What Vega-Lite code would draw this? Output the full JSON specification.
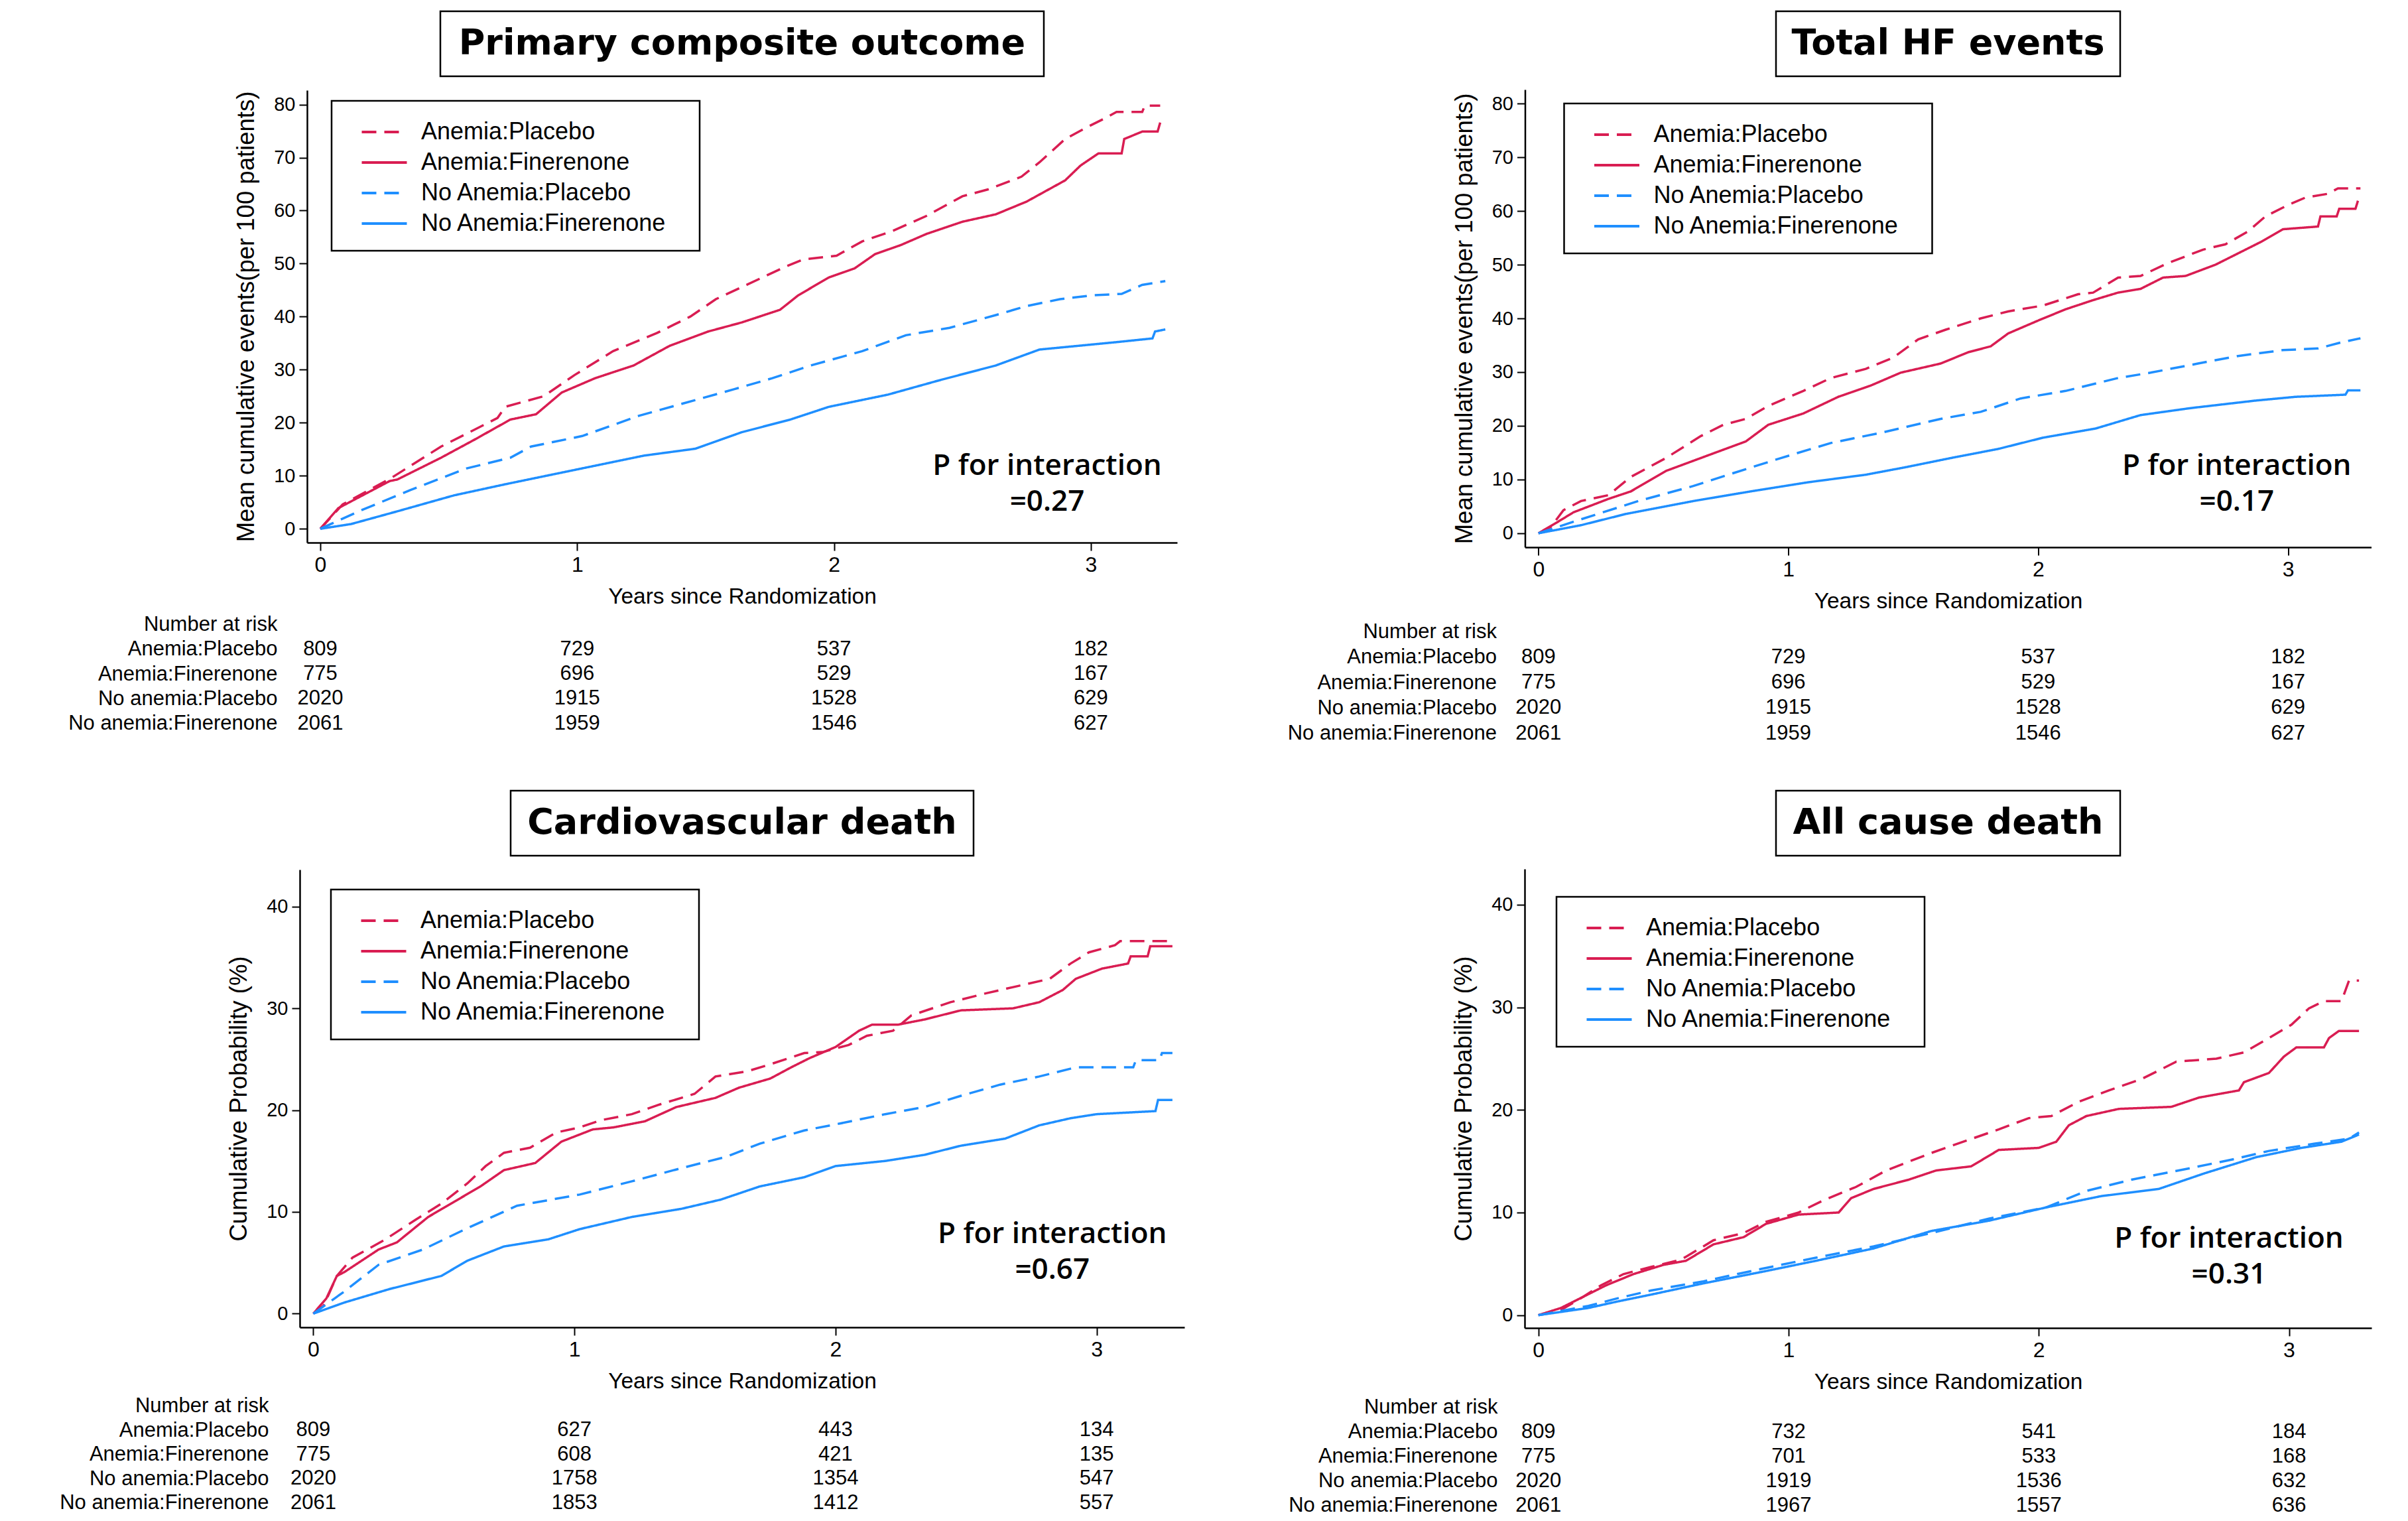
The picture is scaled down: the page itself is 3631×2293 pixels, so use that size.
{
"$schema": "https://vega.github.io/schema/vega-lite/v6.json",
"padding": {"left": 89, "top": 15, "right": 5, "bottom": 5},
"background": "white",
"datasets": {
"p1": [
{"g":"Anemia:Placebo","t":0,"v":0},{"g":"Anemia:Placebo","t":0.087,"v":4.6},{"g":"Anemia:Placebo","t":0.27,"v":9.4},{"g":"Anemia:Placebo","t":0.47,"v":15.5},{"g":"Anemia:Placebo","t":0.69,"v":20.9},{"g":"Anemia:Placebo","t":0.72,"v":23},{"g":"Anemia:Placebo","t":0.87,"v":25},{"g":"Anemia:Placebo","t":0.99,"v":29},{"g":"Anemia:Placebo","t":1.14,"v":33.5},{"g":"Anemia:Placebo","t":1.31,"v":36.9},{"g":"Anemia:Placebo","t":1.44,"v":40},{"g":"Anemia:Placebo","t":1.54,"v":43.3},{"g":"Anemia:Placebo","t":1.66,"v":46},{"g":"Anemia:Placebo","t":1.81,"v":49.4},{"g":"Anemia:Placebo","t":1.88,"v":50.8},{"g":"Anemia:Placebo","t":2.01,"v":51.5},{"g":"Anemia:Placebo","t":2.11,"v":54.2},{"g":"Anemia:Placebo","t":2.23,"v":56.2},{"g":"Anemia:Placebo","t":2.36,"v":59},{"g":"Anemia:Placebo","t":2.5,"v":62.7},{"g":"Anemia:Placebo","t":2.6,"v":64},{"g":"Anemia:Placebo","t":2.73,"v":66.4},{"g":"Anemia:Placebo","t":2.8,"v":69.1},{"g":"Anemia:Placebo","t":2.9,"v":73.5},{"g":"Anemia:Placebo","t":2.98,"v":75.6},{"g":"Anemia:Placebo","t":3.05,"v":77.3},{"g":"Anemia:Placebo","t":3.1,"v":78.6},{"g":"Anemia:Placebo","t":3.2,"v":78.6},{"g":"Anemia:Placebo","t":3.21,"v":79.8},{"g":"Anemia:Placebo","t":3.27,"v":79.8},
{"g":"Anemia:Finerenone","t":0,"v":0},{"g":"Anemia:Finerenone","t":0.07,"v":3.9},{"g":"Anemia:Finerenone","t":0.27,"v":9},{"g":"Anemia:Finerenone","t":0.3,"v":9.3},{"g":"Anemia:Finerenone","t":0.47,"v":13.4},{"g":"Anemia:Finerenone","t":0.6,"v":16.8},{"g":"Anemia:Finerenone","t":0.74,"v":20.6},{"g":"Anemia:Finerenone","t":0.84,"v":21.6},{"g":"Anemia:Finerenone","t":0.94,"v":25.7},{"g":"Anemia:Finerenone","t":1.07,"v":28.4},{"g":"Anemia:Finerenone","t":1.22,"v":30.8},{"g":"Anemia:Finerenone","t":1.36,"v":34.5},{"g":"Anemia:Finerenone","t":1.51,"v":37.2},{"g":"Anemia:Finerenone","t":1.64,"v":38.9},{"g":"Anemia:Finerenone","t":1.79,"v":41.3},{"g":"Anemia:Finerenone","t":1.86,"v":44},{"g":"Anemia:Finerenone","t":1.98,"v":47.4},{"g":"Anemia:Finerenone","t":2.08,"v":49.1},{"g":"Anemia:Finerenone","t":2.16,"v":51.8},{"g":"Anemia:Finerenone","t":2.26,"v":53.5},{"g":"Anemia:Finerenone","t":2.36,"v":55.6},{"g":"Anemia:Finerenone","t":2.5,"v":57.9},{"g":"Anemia:Finerenone","t":2.63,"v":59.3},{"g":"Anemia:Finerenone","t":2.75,"v":61.7},{"g":"Anemia:Finerenone","t":2.9,"v":65.7},{"g":"Anemia:Finerenone","t":2.96,"v":68.5},{"g":"Anemia:Finerenone","t":3.03,"v":70.8},{"g":"Anemia:Finerenone","t":3.12,"v":70.8},{"g":"Anemia:Finerenone","t":3.13,"v":73.5},{"g":"Anemia:Finerenone","t":3.2,"v":74.9},{"g":"Anemia:Finerenone","t":3.26,"v":74.9},{"g":"Anemia:Finerenone","t":3.27,"v":76.6},
{"g":"No Anemia:Placebo","t":0,"v":0},{"g":"No Anemia:Placebo","t":0.15,"v":3.3},{"g":"No Anemia:Placebo","t":0.35,"v":7.3},{"g":"No Anemia:Placebo","t":0.57,"v":11.4},{"g":"No Anemia:Placebo","t":0.74,"v":13.4},{"g":"No Anemia:Placebo","t":0.82,"v":15.5},{"g":"No Anemia:Placebo","t":1.02,"v":17.5},{"g":"No Anemia:Placebo","t":1.24,"v":21.3},{"g":"No Anemia:Placebo","t":1.41,"v":23.6},{"g":"No Anemia:Placebo","t":1.61,"v":26.3},{"g":"No Anemia:Placebo","t":1.76,"v":28.4},{"g":"No Anemia:Placebo","t":1.91,"v":30.8},{"g":"No Anemia:Placebo","t":2.11,"v":33.5},{"g":"No Anemia:Placebo","t":2.28,"v":36.5},{"g":"No Anemia:Placebo","t":2.45,"v":37.9},{"g":"No Anemia:Placebo","t":2.63,"v":40.3},{"g":"No Anemia:Placebo","t":2.75,"v":42},{"g":"No Anemia:Placebo","t":2.88,"v":43.3},{"g":"No Anemia:Placebo","t":3.0,"v":44},{"g":"No Anemia:Placebo","t":3.12,"v":44.3},{"g":"No Anemia:Placebo","t":3.2,"v":46},{"g":"No Anemia:Placebo","t":3.29,"v":46.7},
{"g":"No Anemia:Finerenone","t":0,"v":0},{"g":"No Anemia:Finerenone","t":0.12,"v":0.9},{"g":"No Anemia:Finerenone","t":0.3,"v":3.3},{"g":"No Anemia:Finerenone","t":0.52,"v":6.3},{"g":"No Anemia:Finerenone","t":0.72,"v":8.4},{"g":"No Anemia:Finerenone","t":1.02,"v":11.4},{"g":"No Anemia:Finerenone","t":1.26,"v":13.8},{"g":"No Anemia:Finerenone","t":1.46,"v":15.1},{"g":"No Anemia:Finerenone","t":1.64,"v":18.2},{"g":"No Anemia:Finerenone","t":1.83,"v":20.6},{"g":"No Anemia:Finerenone","t":1.98,"v":23},{"g":"No Anemia:Finerenone","t":2.21,"v":25.3},{"g":"No Anemia:Finerenone","t":2.41,"v":28},{"g":"No Anemia:Finerenone","t":2.63,"v":30.8},{"g":"No Anemia:Finerenone","t":2.8,"v":33.8},{"g":"No Anemia:Finerenone","t":2.95,"v":34.5},{"g":"No Anemia:Finerenone","t":3.1,"v":35.2},{"g":"No Anemia:Finerenone","t":3.24,"v":35.9},{"g":"No Anemia:Finerenone","t":3.25,"v":37.2},{"g":"No Anemia:Finerenone","t":3.29,"v":37.6}
],
"p2": [
{"g":"Anemia:Placebo","t":0,"v":0},{"g":"Anemia:Placebo","t":0.05,"v":1.2},{"g":"Anemia:Placebo","t":0.1,"v":4.3},{"g":"Anemia:Placebo","t":0.17,"v":6},{"g":"Anemia:Placebo","t":0.28,"v":7.1},{"g":"Anemia:Placebo","t":0.37,"v":10.5},{"g":"Anemia:Placebo","t":0.51,"v":14},{"g":"Anemia:Placebo","t":0.65,"v":18.1},{"g":"Anemia:Placebo","t":0.74,"v":20.2},{"g":"Anemia:Placebo","t":0.83,"v":21.3},{"g":"Anemia:Placebo","t":0.92,"v":23.7},{"g":"Anemia:Placebo","t":1.06,"v":26.5},{"g":"Anemia:Placebo","t":1.17,"v":28.9},{"g":"Anemia:Placebo","t":1.31,"v":30.6},{"g":"Anemia:Placebo","t":1.42,"v":32.7},{"g":"Anemia:Placebo","t":1.52,"v":36.1},{"g":"Anemia:Placebo","t":1.63,"v":37.9},{"g":"Anemia:Placebo","t":1.77,"v":40},{"g":"Anemia:Placebo","t":1.88,"v":41.3},{"g":"Anemia:Placebo","t":2.02,"v":42.4},{"g":"Anemia:Placebo","t":2.16,"v":44.5},{"g":"Anemia:Placebo","t":2.22,"v":44.8},{"g":"Anemia:Placebo","t":2.32,"v":47.6},{"g":"Anemia:Placebo","t":2.41,"v":47.9},{"g":"Anemia:Placebo","t":2.52,"v":50.3},{"g":"Anemia:Placebo","t":2.66,"v":52.8},{"g":"Anemia:Placebo","t":2.75,"v":53.8},{"g":"Anemia:Placebo","t":2.84,"v":56.2},{"g":"Anemia:Placebo","t":2.91,"v":59},{"g":"Anemia:Placebo","t":3.0,"v":61.1},{"g":"Anemia:Placebo","t":3.07,"v":62.5},{"g":"Anemia:Placebo","t":3.16,"v":63.2},{"g":"Anemia:Placebo","t":3.2,"v":64.2},{"g":"Anemia:Placebo","t":3.29,"v":64.2},
{"g":"Anemia:Finerenone","t":0,"v":0},{"g":"Anemia:Finerenone","t":0.08,"v":2.2},{"g":"Anemia:Finerenone","t":0.14,"v":3.9},{"g":"Anemia:Finerenone","t":0.28,"v":6.4},{"g":"Anemia:Finerenone","t":0.37,"v":7.8},{"g":"Anemia:Finerenone","t":0.51,"v":11.6},{"g":"Anemia:Finerenone","t":0.69,"v":14.7},{"g":"Anemia:Finerenone","t":0.83,"v":17.1},{"g":"Anemia:Finerenone","t":0.92,"v":20.2},{"g":"Anemia:Finerenone","t":1.06,"v":22.3},{"g":"Anemia:Finerenone","t":1.2,"v":25.4},{"g":"Anemia:Finerenone","t":1.33,"v":27.5},{"g":"Anemia:Finerenone","t":1.45,"v":29.9},{"g":"Anemia:Finerenone","t":1.61,"v":31.6},{"g":"Anemia:Finerenone","t":1.72,"v":33.7},{"g":"Anemia:Finerenone","t":1.81,"v":34.8},{"g":"Anemia:Finerenone","t":1.88,"v":37.2},{"g":"Anemia:Finerenone","t":2.0,"v":39.6},{"g":"Anemia:Finerenone","t":2.11,"v":41.7},{"g":"Anemia:Finerenone","t":2.22,"v":43.4},{"g":"Anemia:Finerenone","t":2.32,"v":44.8},{"g":"Anemia:Finerenone","t":2.41,"v":45.5},{"g":"Anemia:Finerenone","t":2.5,"v":47.6},{"g":"Anemia:Finerenone","t":2.59,"v":47.9},{"g":"Anemia:Finerenone","t":2.71,"v":50},{"g":"Anemia:Finerenone","t":2.8,"v":52.1},{"g":"Anemia:Finerenone","t":2.89,"v":54.2},{"g":"Anemia:Finerenone","t":2.98,"v":56.6},{"g":"Anemia:Finerenone","t":3.12,"v":57.1},{"g":"Anemia:Finerenone","t":3.13,"v":59},{"g":"Anemia:Finerenone","t":3.195,"v":59},{"g":"Anemia:Finerenone","t":3.205,"v":60.4},{"g":"Anemia:Finerenone","t":3.27,"v":60.4},{"g":"Anemia:Finerenone","t":3.28,"v":61.9},
{"g":"No Anemia:Placebo","t":0,"v":0},{"g":"No Anemia:Placebo","t":0.17,"v":2.6},{"g":"No Anemia:Placebo","t":0.4,"v":6},{"g":"No Anemia:Placebo","t":0.62,"v":8.8},{"g":"No Anemia:Placebo","t":0.78,"v":11.2},{"g":"No Anemia:Placebo","t":0.97,"v":14},{"g":"No Anemia:Placebo","t":1.17,"v":16.8},{"g":"No Anemia:Placebo","t":1.38,"v":18.8},{"g":"No Anemia:Placebo","t":1.61,"v":21.3},{"g":"No Anemia:Placebo","t":1.77,"v":22.6},{"g":"No Anemia:Placebo","t":1.93,"v":25.1},{"g":"No Anemia:Placebo","t":2.11,"v":26.5},{"g":"No Anemia:Placebo","t":2.32,"v":28.9},{"g":"No Anemia:Placebo","t":2.45,"v":29.9},{"g":"No Anemia:Placebo","t":2.64,"v":31.6},{"g":"No Anemia:Placebo","t":2.8,"v":33},{"g":"No Anemia:Placebo","t":2.98,"v":34.1},{"g":"No Anemia:Placebo","t":3.12,"v":34.4},{"g":"No Anemia:Placebo","t":3.21,"v":35.5},{"g":"No Anemia:Placebo","t":3.29,"v":36.3},
{"g":"No Anemia:Finerenone","t":0,"v":0},{"g":"No Anemia:Finerenone","t":0.17,"v":1.5},{"g":"No Anemia:Finerenone","t":0.35,"v":3.6},{"g":"No Anemia:Finerenone","t":0.62,"v":6},{"g":"No Anemia:Finerenone","t":0.85,"v":7.8},{"g":"No Anemia:Finerenone","t":1.08,"v":9.5},{"g":"No Anemia:Finerenone","t":1.31,"v":10.9},{"g":"No Anemia:Finerenone","t":1.47,"v":12.3},{"g":"No Anemia:Finerenone","t":1.65,"v":14},{"g":"No Anemia:Finerenone","t":1.84,"v":15.7},{"g":"No Anemia:Finerenone","t":2.02,"v":17.8},{"g":"No Anemia:Finerenone","t":2.23,"v":19.5},{"g":"No Anemia:Finerenone","t":2.41,"v":22},{"g":"No Anemia:Finerenone","t":2.61,"v":23.3},{"g":"No Anemia:Finerenone","t":2.87,"v":24.7},{"g":"No Anemia:Finerenone","t":3.03,"v":25.4},{"g":"No Anemia:Finerenone","t":3.23,"v":25.8},{"g":"No Anemia:Finerenone","t":3.24,"v":26.6},{"g":"No Anemia:Finerenone","t":3.29,"v":26.6}
],
"p3": [
{"g":"Anemia:Placebo","t":0,"v":0},{"g":"Anemia:Placebo","t":0.04,"v":0.8},{"g":"Anemia:Placebo","t":0.09,"v":3.7},{"g":"Anemia:Placebo","t":0.15,"v":5.5},{"g":"Anemia:Placebo","t":0.27,"v":7.2},{"g":"Anemia:Placebo","t":0.39,"v":9.2},{"g":"Anemia:Placebo","t":0.49,"v":10.8},{"g":"Anemia:Placebo","t":0.59,"v":12.8},{"g":"Anemia:Placebo","t":0.66,"v":14.5},{"g":"Anemia:Placebo","t":0.73,"v":15.8},{"g":"Anemia:Placebo","t":0.83,"v":16.3},{"g":"Anemia:Placebo","t":0.93,"v":17.8},{"g":"Anemia:Placebo","t":1.02,"v":18.3},{"g":"Anemia:Placebo","t":1.1,"v":19},{"g":"Anemia:Placebo","t":1.22,"v":19.6},{"g":"Anemia:Placebo","t":1.32,"v":20.5},{"g":"Anemia:Placebo","t":1.46,"v":21.6},{"g":"Anemia:Placebo","t":1.54,"v":23.3},{"g":"Anemia:Placebo","t":1.66,"v":23.8},{"g":"Anemia:Placebo","t":1.75,"v":24.5},{"g":"Anemia:Placebo","t":1.88,"v":25.6},{"g":"Anemia:Placebo","t":1.95,"v":25.7},{"g":"Anemia:Placebo","t":2.05,"v":26.4},{"g":"Anemia:Placebo","t":2.12,"v":27.3},{"g":"Anemia:Placebo","t":2.22,"v":27.8},{"g":"Anemia:Placebo","t":2.29,"v":29.3},{"g":"Anemia:Placebo","t":2.44,"v":30.6},{"g":"Anemia:Placebo","t":2.58,"v":31.5},{"g":"Anemia:Placebo","t":2.7,"v":32.2},{"g":"Anemia:Placebo","t":2.82,"v":32.9},{"g":"Anemia:Placebo","t":2.9,"v":34.4},{"g":"Anemia:Placebo","t":2.97,"v":35.5},{"g":"Anemia:Placebo","t":3.07,"v":36.2},{"g":"Anemia:Placebo","t":3.09,"v":36.6},{"g":"Anemia:Placebo","t":3.29,"v":36.6},
{"g":"Anemia:Finerenone","t":0,"v":0},{"g":"Anemia:Finerenone","t":0.05,"v":1.5},{"g":"Anemia:Finerenone","t":0.09,"v":3.7},{"g":"Anemia:Finerenone","t":0.12,"v":4.1},{"g":"Anemia:Finerenone","t":0.25,"v":6.3},{"g":"Anemia:Finerenone","t":0.32,"v":7},{"g":"Anemia:Finerenone","t":0.44,"v":9.5},{"g":"Anemia:Finerenone","t":0.54,"v":11},{"g":"Anemia:Finerenone","t":0.64,"v":12.5},{"g":"Anemia:Finerenone","t":0.73,"v":14.1},{"g":"Anemia:Finerenone","t":0.85,"v":14.8},{"g":"Anemia:Finerenone","t":0.95,"v":16.9},{"g":"Anemia:Finerenone","t":1.07,"v":18.1},{"g":"Anemia:Finerenone","t":1.15,"v":18.3},{"g":"Anemia:Finerenone","t":1.27,"v":18.9},{"g":"Anemia:Finerenone","t":1.39,"v":20.3},{"g":"Anemia:Finerenone","t":1.54,"v":21.2},{"g":"Anemia:Finerenone","t":1.63,"v":22.2},{"g":"Anemia:Finerenone","t":1.75,"v":23.1},{"g":"Anemia:Finerenone","t":1.83,"v":24.2},{"g":"Anemia:Finerenone","t":1.9,"v":25.1},{"g":"Anemia:Finerenone","t":2.0,"v":26.2},{"g":"Anemia:Finerenone","t":2.09,"v":27.8},{"g":"Anemia:Finerenone","t":2.14,"v":28.4},{"g":"Anemia:Finerenone","t":2.24,"v":28.4},{"g":"Anemia:Finerenone","t":2.34,"v":28.9},{"g":"Anemia:Finerenone","t":2.48,"v":29.8},{"g":"Anemia:Finerenone","t":2.68,"v":30},{"g":"Anemia:Finerenone","t":2.78,"v":30.6},{"g":"Anemia:Finerenone","t":2.87,"v":31.8},{"g":"Anemia:Finerenone","t":2.92,"v":32.9},{"g":"Anemia:Finerenone","t":3.02,"v":33.9},{"g":"Anemia:Finerenone","t":3.12,"v":34.4},{"g":"Anemia:Finerenone","t":3.13,"v":35.1},{"g":"Anemia:Finerenone","t":3.195,"v":35.1},{"g":"Anemia:Finerenone","t":3.205,"v":36.1},{"g":"Anemia:Finerenone","t":3.29,"v":36.1},
{"g":"No Anemia:Placebo","t":0,"v":0},{"g":"No Anemia:Placebo","t":0.12,"v":2.2},{"g":"No Anemia:Placebo","t":0.25,"v":4.8},{"g":"No Anemia:Placebo","t":0.42,"v":6.3},{"g":"No Anemia:Placebo","t":0.59,"v":8.4},{"g":"No Anemia:Placebo","t":0.78,"v":10.6},{"g":"No Anemia:Placebo","t":1.02,"v":11.7},{"g":"No Anemia:Placebo","t":1.22,"v":13},{"g":"No Anemia:Placebo","t":1.41,"v":14.3},{"g":"No Anemia:Placebo","t":1.58,"v":15.4},{"g":"No Anemia:Placebo","t":1.71,"v":16.7},{"g":"No Anemia:Placebo","t":1.88,"v":18},{"g":"No Anemia:Placebo","t":2.02,"v":18.7},{"g":"No Anemia:Placebo","t":2.19,"v":19.6},{"g":"No Anemia:Placebo","t":2.34,"v":20.3},{"g":"No Anemia:Placebo","t":2.48,"v":21.4},{"g":"No Anemia:Placebo","t":2.63,"v":22.5},{"g":"No Anemia:Placebo","t":2.78,"v":23.3},{"g":"No Anemia:Placebo","t":2.92,"v":24.2},{"g":"No Anemia:Placebo","t":3.14,"v":24.2},{"g":"No Anemia:Placebo","t":3.15,"v":24.9},{"g":"No Anemia:Placebo","t":3.24,"v":24.9},{"g":"No Anemia:Placebo","t":3.25,"v":25.6},{"g":"No Anemia:Placebo","t":3.29,"v":25.6},
{"g":"No Anemia:Finerenone","t":0,"v":0},{"g":"No Anemia:Finerenone","t":0.12,"v":1.1},{"g":"No Anemia:Finerenone","t":0.29,"v":2.4},{"g":"No Anemia:Finerenone","t":0.49,"v":3.7},{"g":"No Anemia:Finerenone","t":0.59,"v":5.2},{"g":"No Anemia:Finerenone","t":0.73,"v":6.6},{"g":"No Anemia:Finerenone","t":0.9,"v":7.3},{"g":"No Anemia:Finerenone","t":1.02,"v":8.3},{"g":"No Anemia:Finerenone","t":1.22,"v":9.5},{"g":"No Anemia:Finerenone","t":1.41,"v":10.3},{"g":"No Anemia:Finerenone","t":1.56,"v":11.2},{"g":"No Anemia:Finerenone","t":1.71,"v":12.5},{"g":"No Anemia:Finerenone","t":1.88,"v":13.4},{"g":"No Anemia:Finerenone","t":2.0,"v":14.5},{"g":"No Anemia:Finerenone","t":2.19,"v":15},{"g":"No Anemia:Finerenone","t":2.34,"v":15.6},{"g":"No Anemia:Finerenone","t":2.48,"v":16.5},{"g":"No Anemia:Finerenone","t":2.65,"v":17.2},{"g":"No Anemia:Finerenone","t":2.78,"v":18.5},{"g":"No Anemia:Finerenone","t":2.9,"v":19.2},{"g":"No Anemia:Finerenone","t":3.0,"v":19.6},{"g":"No Anemia:Finerenone","t":3.225,"v":19.9},{"g":"No Anemia:Finerenone","t":3.235,"v":21},{"g":"No Anemia:Finerenone","t":3.29,"v":21}
],
"p4": [
{"g":"Anemia:Placebo","t":0,"v":0},{"g":"Anemia:Placebo","t":0.09,"v":0.5},{"g":"Anemia:Placebo","t":0.18,"v":1.8},{"g":"Anemia:Placebo","t":0.25,"v":2.9},{"g":"Anemia:Placebo","t":0.34,"v":4},{"g":"Anemia:Placebo","t":0.45,"v":4.7},{"g":"Anemia:Placebo","t":0.57,"v":5.4},{"g":"Anemia:Placebo","t":0.7,"v":7.3},{"g":"Anemia:Placebo","t":0.82,"v":8},{"g":"Anemia:Placebo","t":0.91,"v":9.1},{"g":"Anemia:Placebo","t":1.04,"v":10},{"g":"Anemia:Placebo","t":1.14,"v":11.2},{"g":"Anemia:Placebo","t":1.27,"v":12.5},{"g":"Anemia:Placebo","t":1.39,"v":14.1},{"g":"Anemia:Placebo","t":1.57,"v":15.8},{"g":"Anemia:Placebo","t":1.71,"v":17},{"g":"Anemia:Placebo","t":1.84,"v":18.1},{"g":"Anemia:Placebo","t":1.96,"v":19.2},{"g":"Anemia:Placebo","t":2.05,"v":19.4},{"g":"Anemia:Placebo","t":2.16,"v":20.8},{"g":"Anemia:Placebo","t":2.28,"v":21.9},{"g":"Anemia:Placebo","t":2.41,"v":23},{"g":"Anemia:Placebo","t":2.55,"v":24.7},{"g":"Anemia:Placebo","t":2.71,"v":25},{"g":"Anemia:Placebo","t":2.82,"v":25.6},{"g":"Anemia:Placebo","t":2.92,"v":27},{"g":"Anemia:Placebo","t":3.01,"v":28.3},{"g":"Anemia:Placebo","t":3.08,"v":29.9},{"g":"Anemia:Placebo","t":3.14,"v":30.6},{"g":"Anemia:Placebo","t":3.21,"v":30.6},{"g":"Anemia:Placebo","t":3.24,"v":32.6},{"g":"Anemia:Placebo","t":3.28,"v":32.6},
{"g":"Anemia:Finerenone","t":0,"v":0},{"g":"Anemia:Finerenone","t":0.09,"v":0.7},{"g":"Anemia:Finerenone","t":0.18,"v":1.8},{"g":"Anemia:Finerenone","t":0.27,"v":2.9},{"g":"Anemia:Finerenone","t":0.38,"v":4},{"g":"Anemia:Finerenone","t":0.5,"v":4.9},{"g":"Anemia:Finerenone","t":0.59,"v":5.3},{"g":"Anemia:Finerenone","t":0.7,"v":6.9},{"g":"Anemia:Finerenone","t":0.82,"v":7.6},{"g":"Anemia:Finerenone","t":0.91,"v":8.9},{"g":"Anemia:Finerenone","t":1.04,"v":9.8},{"g":"Anemia:Finerenone","t":1.2,"v":10},{"g":"Anemia:Finerenone","t":1.25,"v":11.4},{"g":"Anemia:Finerenone","t":1.34,"v":12.3},{"g":"Anemia:Finerenone","t":1.48,"v":13.2},{"g":"Anemia:Finerenone","t":1.59,"v":14.1},{"g":"Anemia:Finerenone","t":1.73,"v":14.5},{"g":"Anemia:Finerenone","t":1.84,"v":16.1},{"g":"Anemia:Finerenone","t":2.0,"v":16.3},{"g":"Anemia:Finerenone","t":2.07,"v":16.9},{"g":"Anemia:Finerenone","t":2.12,"v":18.5},{"g":"Anemia:Finerenone","t":2.19,"v":19.4},{"g":"Anemia:Finerenone","t":2.32,"v":20.1},{"g":"Anemia:Finerenone","t":2.53,"v":20.3},{"g":"Anemia:Finerenone","t":2.64,"v":21.2},{"g":"Anemia:Finerenone","t":2.8,"v":21.9},{"g":"Anemia:Finerenone","t":2.82,"v":22.7},{"g":"Anemia:Finerenone","t":2.92,"v":23.6},{"g":"Anemia:Finerenone","t":2.98,"v":25.2},{"g":"Anemia:Finerenone","t":3.03,"v":26.1},{"g":"Anemia:Finerenone","t":3.14,"v":26.1},{"g":"Anemia:Finerenone","t":3.16,"v":27},{"g":"Anemia:Finerenone","t":3.2,"v":27.7},{"g":"Anemia:Finerenone","t":3.28,"v":27.7},
{"g":"No Anemia:Placebo","t":0,"v":0},{"g":"No Anemia:Placebo","t":0.2,"v":0.9},{"g":"No Anemia:Placebo","t":0.31,"v":1.6},{"g":"No Anemia:Placebo","t":0.45,"v":2.4},{"g":"No Anemia:Placebo","t":0.66,"v":3.3},{"g":"No Anemia:Placebo","t":0.89,"v":4.5},{"g":"No Anemia:Placebo","t":1.11,"v":5.6},{"g":"No Anemia:Placebo","t":1.34,"v":6.7},{"g":"No Anemia:Placebo","t":1.57,"v":8},{"g":"No Anemia:Placebo","t":1.8,"v":9.4},{"g":"No Anemia:Placebo","t":2.03,"v":10.5},{"g":"No Anemia:Placebo","t":2.19,"v":12.1},{"g":"No Anemia:Placebo","t":2.37,"v":13.2},{"g":"No Anemia:Placebo","t":2.6,"v":14.3},{"g":"No Anemia:Placebo","t":2.78,"v":15.2},{"g":"No Anemia:Placebo","t":2.92,"v":16},{"g":"No Anemia:Placebo","t":3.1,"v":16.7},{"g":"No Anemia:Placebo","t":3.24,"v":17.2},{"g":"No Anemia:Placebo","t":3.28,"v":17.8},
{"g":"No Anemia:Finerenone","t":0,"v":0},{"g":"No Anemia:Finerenone","t":0.2,"v":0.7},{"g":"No Anemia:Finerenone","t":0.31,"v":1.3},{"g":"No Anemia:Finerenone","t":0.45,"v":2},{"g":"No Anemia:Finerenone","t":0.66,"v":3.1},{"g":"No Anemia:Finerenone","t":0.89,"v":4.2},{"g":"No Anemia:Finerenone","t":1.11,"v":5.3},{"g":"No Anemia:Finerenone","t":1.34,"v":6.5},{"g":"No Anemia:Finerenone","t":1.57,"v":8.2},{"g":"No Anemia:Finerenone","t":1.8,"v":9.2},{"g":"No Anemia:Finerenone","t":2.03,"v":10.5},{"g":"No Anemia:Finerenone","t":2.25,"v":11.6},{"g":"No Anemia:Finerenone","t":2.48,"v":12.3},{"g":"No Anemia:Finerenone","t":2.66,"v":13.8},{"g":"No Anemia:Finerenone","t":2.87,"v":15.4},{"g":"No Anemia:Finerenone","t":3.05,"v":16.3},{"g":"No Anemia:Finerenone","t":3.21,"v":16.9},{"g":"No Anemia:Finerenone","t":3.28,"v":17.6}
],
"r1": [
{"g":"Anemia:Placebo","t":0,"n":809},{"g":"Anemia:Placebo","t":1,"n":729},{"g":"Anemia:Placebo","t":2,"n":537},{"g":"Anemia:Placebo","t":3,"n":182},
{"g":"Anemia:Finerenone","t":0,"n":775},{"g":"Anemia:Finerenone","t":1,"n":696},{"g":"Anemia:Finerenone","t":2,"n":529},{"g":"Anemia:Finerenone","t":3,"n":167},
{"g":"No anemia:Placebo","t":0,"n":2020},{"g":"No anemia:Placebo","t":1,"n":1915},{"g":"No anemia:Placebo","t":2,"n":1528},{"g":"No anemia:Placebo","t":3,"n":629},
{"g":"No anemia:Finerenone","t":0,"n":2061},{"g":"No anemia:Finerenone","t":1,"n":1959},{"g":"No anemia:Finerenone","t":2,"n":1546},{"g":"No anemia:Finerenone","t":3,"n":627}
],
"r2": [
{"g":"Anemia:Placebo","t":0,"n":809},{"g":"Anemia:Placebo","t":1,"n":729},{"g":"Anemia:Placebo","t":2,"n":537},{"g":"Anemia:Placebo","t":3,"n":182},
{"g":"Anemia:Finerenone","t":0,"n":775},{"g":"Anemia:Finerenone","t":1,"n":696},{"g":"Anemia:Finerenone","t":2,"n":529},{"g":"Anemia:Finerenone","t":3,"n":167},
{"g":"No anemia:Placebo","t":0,"n":2020},{"g":"No anemia:Placebo","t":1,"n":1915},{"g":"No anemia:Placebo","t":2,"n":1528},{"g":"No anemia:Placebo","t":3,"n":629},
{"g":"No anemia:Finerenone","t":0,"n":2061},{"g":"No anemia:Finerenone","t":1,"n":1959},{"g":"No anemia:Finerenone","t":2,"n":1546},{"g":"No anemia:Finerenone","t":3,"n":627}
],
"r3": [
{"g":"Anemia:Placebo","t":0,"n":809},{"g":"Anemia:Placebo","t":1,"n":627},{"g":"Anemia:Placebo","t":2,"n":443},{"g":"Anemia:Placebo","t":3,"n":134},
{"g":"Anemia:Finerenone","t":0,"n":775},{"g":"Anemia:Finerenone","t":1,"n":608},{"g":"Anemia:Finerenone","t":2,"n":421},{"g":"Anemia:Finerenone","t":3,"n":135},
{"g":"No anemia:Placebo","t":0,"n":2020},{"g":"No anemia:Placebo","t":1,"n":1758},{"g":"No anemia:Placebo","t":2,"n":1354},{"g":"No anemia:Placebo","t":3,"n":547},
{"g":"No anemia:Finerenone","t":0,"n":2061},{"g":"No anemia:Finerenone","t":1,"n":1853},{"g":"No anemia:Finerenone","t":2,"n":1412},{"g":"No anemia:Finerenone","t":3,"n":557}
],
"r4": [
{"g":"Anemia:Placebo","t":0,"n":809},{"g":"Anemia:Placebo","t":1,"n":732},{"g":"Anemia:Placebo","t":2,"n":541},{"g":"Anemia:Placebo","t":3,"n":184},
{"g":"Anemia:Finerenone","t":0,"n":775},{"g":"Anemia:Finerenone","t":1,"n":701},{"g":"Anemia:Finerenone","t":2,"n":533},{"g":"Anemia:Finerenone","t":3,"n":168},
{"g":"No anemia:Placebo","t":0,"n":2020},{"g":"No anemia:Placebo","t":1,"n":1919},{"g":"No anemia:Placebo","t":2,"n":1536},{"g":"No anemia:Placebo","t":3,"n":632},
{"g":"No anemia:Finerenone","t":0,"n":2061},{"g":"No anemia:Finerenone","t":1,"n":1967},{"g":"No anemia:Finerenone","t":2,"n":1557},{"g":"No anemia:Finerenone","t":3,"n":636}
]
},
"spacing": 155,
"resolve": {"scale": {"color": "independent", "strokeDash": "independent", "x": "independent", "y": "independent"}},
"hconcat": [
{"bounds": "flush", "center": true, "spacing": 21,
 "resolve": {"scale": {"color": "independent", "strokeDash": "independent", "x": "independent", "y": "independent"}},
 "vconcat": [
{"width": 910, "height": 98, "view": {"stroke": "black", "strokeWidth": 2.5},
 "data": {"values": [{"title": "Primary composite outcome"}]},
 "mark": {"type": "text", "font": "DejaVu Sans", "fontWeight": "bold", "fontSize": 54, "color": "black"},
 "encoding": {"text": {"field": "title", "type": "nominal"}}},
{"width": 1312, "height": 682, "data": {"name": "p1"},
 "layer": [
  {"mark": {"type": "line", "strokeWidth": 3.5},
   "encoding": {
    "x": {"field": "t", "type": "quantitative", "scale": {"domain": [-0.0516, 3.336], "nice": false, "zero": false}, "axis": {"values": [0,1,2,3], "format": "d", "title": "Years since Randomization"}},
    "y": {"field": "v", "type": "quantitative", "scale": {"domain": [-2.6, 82.7], "nice": false, "zero": false}, "axis": {"values": [0,10,20,30,40,50,60,70,80], "format": "d", "title": "Mean cumulative events(per 100 patients)"}},
    "color": {"field": "g", "type": "nominal", "scale": {"domain": ["Anemia:Placebo","Anemia:Finerenone","No Anemia:Placebo","No Anemia:Finerenone"], "range": ["#d91d52","#d91d52","#1f8fff","#1f8fff"]}, "legend": {"title": null, "orient": "none", "legendX": 37, "legendY": 16, "rowPadding": 4, "labelExpr": "datum.label + '\u2800'", "encode": {"legend": {"update": {"strokeWidth": {"value": 2.5}}}}}},
    "strokeDash": {"field": "g", "type": "nominal", "scale": {"domain": ["Anemia:Placebo","Anemia:Finerenone","No Anemia:Placebo","No Anemia:Finerenone"], "range": [[22,12],[1,0],[22,12],[1,0]]}}
   }},
  {"data": {"values": [{"k": 1}]},
   "mark": {"type": "text", "font": "Open Sans", "fontWeight": 600, "fontSize": 44, "lineHeight": 54, "align": "center", "baseline": "middle", "color": "black"},
   "encoding": {"x": {"datum": 2.83}, "y": {"datum": 11.75}, "text": {"value": ["P for interaction", "=0.27"]}}}
 ]},
{"width": 1312, "height": 332, "data": {"name": "r1"},
 "mark": {"type": "text", "font": "Liberation Sans", "fontSize": 31, "color": "black"},
 "encoding": {
  "x": {"field": "t", "type": "quantitative", "scale": {"domain": [-0.0516, 3.336], "nice": false, "zero": false}, "axis": null},
  "y": {"field": "g", "type": "nominal", "scale": {"type": "point", "domain": [" ","  ","Number at risk","Anemia:Placebo","Anemia:Finerenone","No anemia:Placebo","No anemia:Finerenone","   "], "padding": 0.939, "align": 0.391}, "axis": {"domain": false, "ticks": false, "labelPadding": 45, "labelFontSize": 31, "title": null}},
  "text": {"field": "n", "type": "quantitative", "format": "d"}}},
{"width": 698, "height": 98, "view": {"stroke": "black", "strokeWidth": 2.5},
 "data": {"values": [{"title": "Cardiovascular death"}]},
 "mark": {"type": "text", "font": "DejaVu Sans", "fontWeight": "bold", "fontSize": 54, "color": "black"},
 "encoding": {"text": {"field": "title", "type": "nominal"}}},
{"width": 1334, "height": 690, "data": {"name": "p3"},
 "layer": [
  {"mark": {"type": "line", "strokeWidth": 3.5},
   "encoding": {
    "x": {"field": "t", "type": "quantitative", "scale": {"domain": [-0.052, 3.336], "nice": false, "zero": false}, "axis": {"values": [0,1,2,3], "format": "d", "title": "Years since Randomization"}},
    "y": {"field": "v", "type": "quantitative", "scale": {"domain": [-1.346, 43.63], "nice": false, "zero": false}, "axis": {"values": [0,10,20,30,40], "format": "d", "title": "Cumulative Probability (%)"}},
    "color": {"field": "g", "type": "nominal", "scale": {"domain": ["Anemia:Placebo","Anemia:Finerenone","No Anemia:Placebo","No Anemia:Finerenone"], "range": ["#d91d52","#d91d52","#1f8fff","#1f8fff"]}, "legend": {"title": null, "orient": "none", "legendX": 47, "legendY": 30, "rowPadding": 4, "labelExpr": "datum.label + '\u2800'", "encode": {"legend": {"update": {"strokeWidth": {"value": 2.5}}}}}},
    "strokeDash": {"field": "g", "type": "nominal", "scale": {"domain": ["Anemia:Placebo","Anemia:Finerenone","No Anemia:Placebo","No Anemia:Finerenone"], "range": [[22,12],[1,0],[22,12],[1,0]]}}
   }},
  {"data": {"values": [{"k": 1}]},
   "mark": {"type": "text", "font": "Open Sans", "fontWeight": 600, "fontSize": 44, "lineHeight": 54, "align": "center", "baseline": "middle", "color": "black"},
   "encoding": {"x": {"datum": 2.83}, "y": {"datum": 7.8}, "text": {"value": ["P for interaction", "=0.67"]}}}
 ]},
{"width": 1334, "height": 270, "data": {"name": "r3"},
 "mark": {"type": "text", "font": "Liberation Sans", "fontSize": 31, "color": "black"},
 "encoding": {
  "x": {"field": "t", "type": "quantitative", "scale": {"domain": [-0.052, 3.336], "nice": false, "zero": false}, "axis": null},
  "y": {"field": "g", "type": "nominal", "scale": {"type": "point", "domain": [" ","  ","Number at risk","Anemia:Placebo","Anemia:Finerenone","No anemia:Placebo","No anemia:Finerenone"], "padding": 0.699, "align": 0.485}, "axis": {"domain": false, "ticks": false, "labelPadding": 47, "labelFontSize": 31, "title": null}},
  "text": {"field": "n", "type": "quantitative", "format": "d"}}}
 ]},
{"bounds": "flush", "center": true, "spacing": 20,
 "resolve": {"scale": {"color": "independent", "strokeDash": "independent", "x": "independent", "y": "independent"}},
 "vconcat": [
{"width": 519, "height": 98, "view": {"stroke": "black", "strokeWidth": 2.5},
 "data": {"values": [{"title": "Total HF events"}]},
 "mark": {"type": "text", "font": "DejaVu Sans", "fontWeight": "bold", "fontSize": 54, "color": "black"},
 "encoding": {"text": {"field": "title", "type": "nominal"}}},
{"width": 1276, "height": 690, "data": {"name": "p2"},
 "layer": [
  {"mark": {"type": "line", "strokeWidth": 3.5},
   "encoding": {
    "x": {"field": "t", "type": "quantitative", "scale": {"domain": [-0.054, 3.333], "nice": false, "zero": false}, "axis": {"values": [0,1,2,3], "format": "d", "title": "Years since Randomization"}},
    "y": {"field": "v", "type": "quantitative", "scale": {"domain": [-2.6, 82.6], "nice": false, "zero": false}, "axis": {"values": [0,10,20,30,40,50,60,70,80], "format": "d", "title": "Mean cumulative events(per 100 patients)"}},
    "color": {"field": "g", "type": "nominal", "scale": {"domain": ["Anemia:Placebo","Anemia:Finerenone","No Anemia:Placebo","No Anemia:Finerenone"], "range": ["#d91d52","#d91d52","#1f8fff","#1f8fff"]}, "legend": {"title": null, "orient": "none", "legendX": 59, "legendY": 21, "rowPadding": 4, "labelExpr": "datum.label + '\u2800'", "encode": {"legend": {"update": {"strokeWidth": {"value": 2.5}}}}}},
    "strokeDash": {"field": "g", "type": "nominal", "scale": {"domain": ["Anemia:Placebo","Anemia:Finerenone","No Anemia:Placebo","No Anemia:Finerenone"], "range": [[22,12],[1,0],[22,12],[1,0]]}}
   }},
  {"data": {"values": [{"k": 1}]},
   "mark": {"type": "text", "font": "Open Sans", "fontWeight": 600, "fontSize": 44, "lineHeight": 54, "align": "center", "baseline": "middle", "color": "black"},
   "encoding": {"x": {"datum": 2.795}, "y": {"datum": 12.5}, "text": {"value": ["P for interaction", "=0.17"]}}}
 ]},
{"width": 1276, "height": 327, "data": {"name": "r2"},
 "mark": {"type": "text", "font": "Liberation Sans", "fontSize": 31, "color": "black"},
 "encoding": {
  "x": {"field": "t", "type": "quantitative", "scale": {"domain": [-0.054, 3.333], "nice": false, "zero": false}, "axis": null},
  "y": {"field": "g", "type": "nominal", "scale": {"type": "point", "domain": [" ","  ","Number at risk","Anemia:Placebo","Anemia:Finerenone","No anemia:Placebo","No anemia:Finerenone","   "], "padding": 0.78, "align": 0.526}, "axis": {"domain": false, "ticks": false, "labelPadding": 43, "labelFontSize": 31, "title": null}},
  "text": {"field": "n", "type": "quantitative", "format": "d"}}},
{"width": 519, "height": 98, "view": {"stroke": "black", "strokeWidth": 2.5},
 "data": {"values": [{"title": "All cause death"}]},
 "mark": {"type": "text", "font": "DejaVu Sans", "fontWeight": "bold", "fontSize": 54, "color": "black"},
 "encoding": {"text": {"field": "title", "type": "nominal"}}},
{"width": 1277, "height": 692, "data": {"name": "p4"},
 "layer": [
  {"mark": {"type": "line", "strokeWidth": 3.5},
   "encoding": {
    "x": {"field": "t", "type": "quantitative", "scale": {"domain": [-0.055, 3.33], "nice": false, "zero": false}, "axis": {"values": [0,1,2,3], "format": "d", "title": "Years since Randomization"}},
    "y": {"field": "v", "type": "quantitative", "scale": {"domain": [-1.25, 43.48], "nice": false, "zero": false}, "axis": {"values": [0,10,20,30,40], "format": "d", "title": "Cumulative Probability (%)"}},
    "color": {"field": "g", "type": "nominal", "scale": {"domain": ["Anemia:Placebo","Anemia:Finerenone","No Anemia:Placebo","No Anemia:Finerenone"], "range": ["#d91d52","#d91d52","#1f8fff","#1f8fff"]}, "legend": {"title": null, "orient": "none", "legendX": 48, "legendY": 42, "rowPadding": 4, "labelExpr": "datum.label + '\u2800'", "encode": {"legend": {"update": {"strokeWidth": {"value": 2.5}}}}}},
    "strokeDash": {"field": "g", "type": "nominal", "scale": {"domain": ["Anemia:Placebo","Anemia:Finerenone","No Anemia:Placebo","No Anemia:Finerenone"], "range": [[22,12],[1,0],[22,12],[1,0]]}}
   }},
  {"data": {"values": [{"k": 1}]},
   "mark": {"type": "text", "font": "Open Sans", "fontWeight": 600, "fontSize": 44, "lineHeight": 54, "align": "center", "baseline": "middle", "color": "black"},
   "encoding": {"x": {"datum": 2.76}, "y": {"datum": 7.4}, "text": {"value": ["P for interaction", "=0.31"]}}}
 ]},
{"width": 1277, "height": 270, "data": {"name": "r4"},
 "mark": {"type": "text", "font": "Liberation Sans", "fontSize": 31, "color": "black"},
 "encoding": {
  "x": {"field": "t", "type": "quantitative", "scale": {"domain": [-0.055, 3.33], "nice": false, "zero": false}, "axis": null},
  "y": {"field": "g", "type": "nominal", "scale": {"type": "point", "domain": [" ","  ","Number at risk","Anemia:Placebo","Anemia:Finerenone","No anemia:Placebo","No anemia:Finerenone"], "padding": 0.649, "align": 0.536}, "axis": {"domain": false, "ticks": false, "labelPadding": 41, "labelFontSize": 31, "title": null}},
  "text": {"field": "n", "type": "quantitative", "format": "d"}}}
 ]}
],
"config": {
 "view": {"stroke": null},
 "font": "Liberation Sans",
 "axis": {"grid": false, "domainColor": "black", "domainWidth": 2.5, "tickColor": "black", "tickWidth": 2, "tickSize": 12, "labelColor": "black", "titleColor": "black", "labelFont": "Liberation Sans", "titleFont": "Liberation Sans", "titleFontWeight": "normal", "labelLimit": 1000, "labelFlush": false, "labelOverlap": false},
 "axisX": {"labelFontSize": 32, "labelPadding": 6, "titleFontSize": 33.5, "titlePadding": 16},
 "axisY": {"labelFontSize": 29, "labelPadding": 6, "titleFontSize": 36.5, "titlePadding": 22},
 "legend": {"labelFont": "Liberation Sans", "labelFontSize": 36, "labelColor": "black", "labelLimit": 1000, "symbolType": "M-1.5455,0H1.5455", "symbolSize": 1936, "symbolStrokeWidth": 4, "labelOffset": 31.5, "rowPadding": 4, "padding": 23, "symbolOffset": 32.5, "strokeColor": "black"}
}
}
